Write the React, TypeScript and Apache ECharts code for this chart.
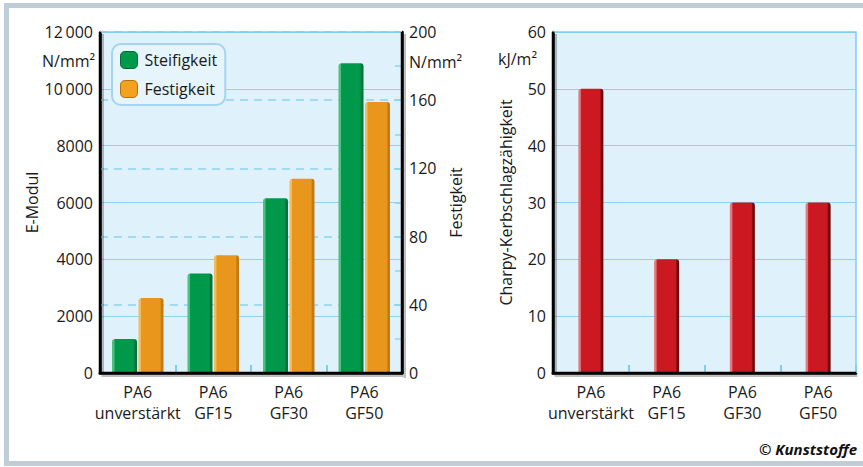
import React, { useEffect, useRef } from "react";
import * as echarts from "echarts";

const categories = ["PA6\nunverstärkt", "PA6\nGF15", "PA6\nGF30", "PA6\nGF50"];
const steifigkeit = [1200, 3500, 6150, 10900];
const festigkeit = [44, 69, 114, 159];
const charpy = [50, 20, 30, 30];
const leftTicks = { min: 0, max: 12000, interval: 2000 };
const rightTicks = { min: 0, max: 200, interval: 40 };
const charpyTicks = { min: 0, max: 60, interval: 10 };

const FONT = "'Open Sans', 'Noto Sans', sans-serif";
const TXT = "#1a1a1a";
const GRIDC = "#8dd2f0";
const BG = "#dff1fb";

function grad(light: string, main: string, dark: string) {
  return {
    type: "linear",
    x: 0,
    y: 0,
    x2: 1,
    y2: 0,
    colorStops: [
      { offset: 0, color: light },
      { offset: 0.08, color: light },
      { offset: 0.12, color: main },
      { offset: 0.86, color: main },
      { offset: 0.92, color: dark },
      { offset: 1, color: dark },
    ],
  };
}

const SH = "rgba(0,0,0,0.25)";
const AX = "#000000";

function fmtThousands(v: number) {
  const s = String(v);
  if (v >= 10000) return s.slice(0, s.length - 3) + "\u2009" + s.slice(-3);
  return s;
}

export default function App() {
  const ref = useRef<HTMLDivElement>(null);
  useEffect(() => {
    document.body.style.margin = "0";
    if (!ref.current) return;
    const chart = echarts.init(ref.current, null, { renderer: "svg" });
    const xAxisCommon = {
      type: "category",
      data: categories,
      axisLine: { show: true, onZero: false, lineStyle: { color: AX, width: 2.5 } },
      axisTick: { show: true, inside: true, length: 8, lineStyle: { color: "#7fcdf0", width: 2 } },
      axisLabel: { fontSize: 16, color: TXT, fontFamily: FONT, lineHeight: 21, margin: 8, interval: 0 },
      splitLine: { show: false },
      z: 10,
    };
    const option: any = {
      animation: false,
      textStyle: { fontFamily: FONT },
      grid: [
        { left: 100, top: 32, width: 302, height: 341, show: false },
        { left: 553, top: 32, width: 303, height: 341, show: false },
      ],
      legend: {
        data: [
          { name: "Steifigkeit", itemStyle: { color: "#00994c", borderColor: "#006a33", borderWidth: 1 } },
          { name: "Festigkeit", itemStyle: { color: "#f2a21e", borderColor: "#b07010", borderWidth: 1 } },
        ],
        left: 112,
        top: 44,
        orient: "vertical",
        icon: "roundRect",
        itemWidth: 17,
        itemHeight: 17,
        itemGap: 11,
        padding: [7, 8, 7, 8],
        backgroundColor: "#e6f4fc",
        borderColor: "#a6d4f0",
        borderWidth: 2,
        borderRadius: 9,
        textStyle: { fontSize: 16, color: TXT, fontFamily: FONT, padding: [0, 0, 0, 2] },
        z: 20,
      },
      xAxis: [
        { ...xAxisCommon, gridIndex: 0 },
        { ...xAxisCommon, gridIndex: 1 },
      ],
      yAxis: [
        {
          type: "value",
          gridIndex: 0,
          position: "left",
          ...leftTicks,
          axisLine: { show: true, onZero: false, lineStyle: { color: AX, width: 2.5 } },
          axisTick: { show: false },
          axisLabel: { fontSize: 16, color: TXT, fontFamily: FONT, margin: 7, formatter: fmtThousands },
          splitLine: { show: true, lineStyle: { color: GRIDC, width: 1.2 } },
          splitArea: { show: true, areaStyle: { color: [BG] } },
          name: "E-Modul",
          nameLocation: "middle",
          nameRotate: 90,
          nameGap: 60,
          nameTextStyle: { fontSize: 16, color: TXT, fontFamily: FONT },
        },
        {
          type: "value",
          gridIndex: 0,
          position: "right",
          ...rightTicks,
          axisLine: { show: true, onZero: false, lineStyle: { color: AX, width: 2.5 } },
          axisTick: { show: true, inside: true, length: 7, lineStyle: { color: GRIDC, width: 1.5 } },
          minorTick: { show: true, splitNumber: 2, length: 7, lineStyle: { color: GRIDC, width: 1.5 } },
          axisLabel: { fontSize: 16, color: TXT, fontFamily: FONT, margin: 7 },
          splitLine: { show: true, lineStyle: { color: GRIDC, width: 1.5, type: [8, 6] } },
          name: "Festigkeit",
          nameLocation: "middle",
          nameRotate: 90,
          nameGap: 46,
          nameTextStyle: { fontSize: 16, color: TXT, fontFamily: FONT },
          z: 1,
        },
        {
          type: "value",
          gridIndex: 1,
          position: "left",
          ...charpyTicks,
          axisLine: { show: true, onZero: false, lineStyle: { color: AX, width: 2.5 } },
          axisTick: { show: false },
          axisLabel: { fontSize: 16, color: TXT, fontFamily: FONT, margin: 7 },
          splitLine: { show: true, lineStyle: { color: GRIDC, width: 1.2 } },
          splitArea: { show: true, areaStyle: { color: [BG] } },
          name: "Charpy-Kerbschlagzähigkeit",
          nameLocation: "middle",
          nameRotate: 90,
          nameGap: 39,
          nameTextStyle: { fontSize: 16, color: TXT, fontFamily: FONT },
        },
      ],
      series: [
        {
          name: "Steifigkeit",
          type: "bar",
          xAxisIndex: 0,
          yAxisIndex: 0,
          data: steifigkeit,
          barWidth: 25,
          barGap: "6%",
          z: 11,
          itemStyle: { color: grad("#4fbf80", "#00994c", "#00743a"), borderRadius: [3, 3, 0, 0] },
        },
        {
          name: "Festigkeit",
          type: "bar",
          xAxisIndex: 0,
          yAxisIndex: 1,
          data: festigkeit,
          barWidth: 25,
          barGap: "6%",
          z: 11,
          itemStyle: { color: grad("#f5bb5a", "#e8971c", "#c27a12"), borderRadius: [3, 3, 0, 0] },
        },
        {
          name: "Charpy",
          type: "bar",
          xAxisIndex: 1,
          yAxisIndex: 2,
          data: charpy,
          barWidth: 25,
          z: 11,
          itemStyle: { color: grad("#e07a7e", "#cc1820", "#6e0a0c"), borderRadius: [3, 3, 0, 0] },
        },
      ],
      graphic: [
        { type: "rect", z: 12, shape: { x: 100, y: 31.25, width: 302, height: 1.5 }, style: { fill: "#7fcdf0" } },
        { type: "rect", z: 12, shape: { x: 553, y: 31.25, width: 303, height: 1.5 }, style: { fill: "#7fcdf0" } },
        { type: "rect", z: 12, shape: { x: 855.25, y: 31.25, width: 1.5, height: 342 }, style: { fill: "#7fcdf0" } },
        { type: "rect", z: 12, shape: { x: 101.5, y: 34, width: 2.5, height: 340 }, style: { fill: SH } },
        { type: "rect", z: 12, shape: { x: 403.5, y: 34, width: 2.5, height: 344 }, style: { fill: SH } },
        { type: "rect", z: 12, shape: { x: 101.5, y: 374.5, width: 302, height: 2.5 }, style: { fill: SH } },
        { type: "rect", z: 12, shape: { x: 554.5, y: 34, width: 2.5, height: 340 }, style: { fill: SH } },
        { type: "rect", z: 12, shape: { x: 554.5, y: 374.5, width: 303, height: 2.5 }, style: { fill: SH } },
        { type: "rect", z: 13, shape: { x: 98.75, y: 32, width: 2.5, height: 342.25 }, style: { fill: AX } },
        { type: "rect", z: 13, shape: { x: 400.75, y: 32, width: 2.5, height: 342.25 }, style: { fill: AX } },
        { type: "rect", z: 13, shape: { x: 98.75, y: 371.75, width: 304.5, height: 2.5 }, style: { fill: AX } },
        { type: "rect", z: 13, shape: { x: 551.75, y: 32, width: 2.5, height: 342.25 }, style: { fill: AX } },
        { type: "rect", z: 13, shape: { x: 551.75, y: 371.75, width: 304.5, height: 2.5 }, style: { fill: AX } },
        { type: "text", z: 13, left: 42, top: 53, style: { text: "N/mm²", fontSize: 16, fill: TXT, fontFamily: FONT } },
        { type: "text", z: 13, left: 409, top: 54, style: { text: "N/mm²", fontSize: 16, fill: TXT, fontFamily: FONT } },
        { type: "text", z: 13, left: 498, top: 51, style: { text: "kJ/m²", fontSize: 16, fill: TXT, fontFamily: FONT } },
        {
          type: "text",
          z: 13,
          right: 6,
          top: 441,
          style: { text: "© Kunststoffe", fontSize: 15, fontWeight: "bold", fontStyle: "italic", fill: "#111", fontFamily: FONT },
        },
      ],
    };
    chart.setOption(option);
    return () => chart.dispose();
  }, []);
  return (
    <div style={{ position: "relative", width: 863, height: 467, overflow: "hidden", background: "#fff" }}>
      <div
        style={{
          position: "absolute",
          left: 4,
          top: 3,
          width: 880,
          height: 463,
          border: "5px solid #bfcdd6",
          boxSizing: "border-box",
        }}
      />
      <div ref={ref} style={{ position: "absolute", left: 0, top: 0, width: 863, height: 467 }} />
    </div>
  );
}
